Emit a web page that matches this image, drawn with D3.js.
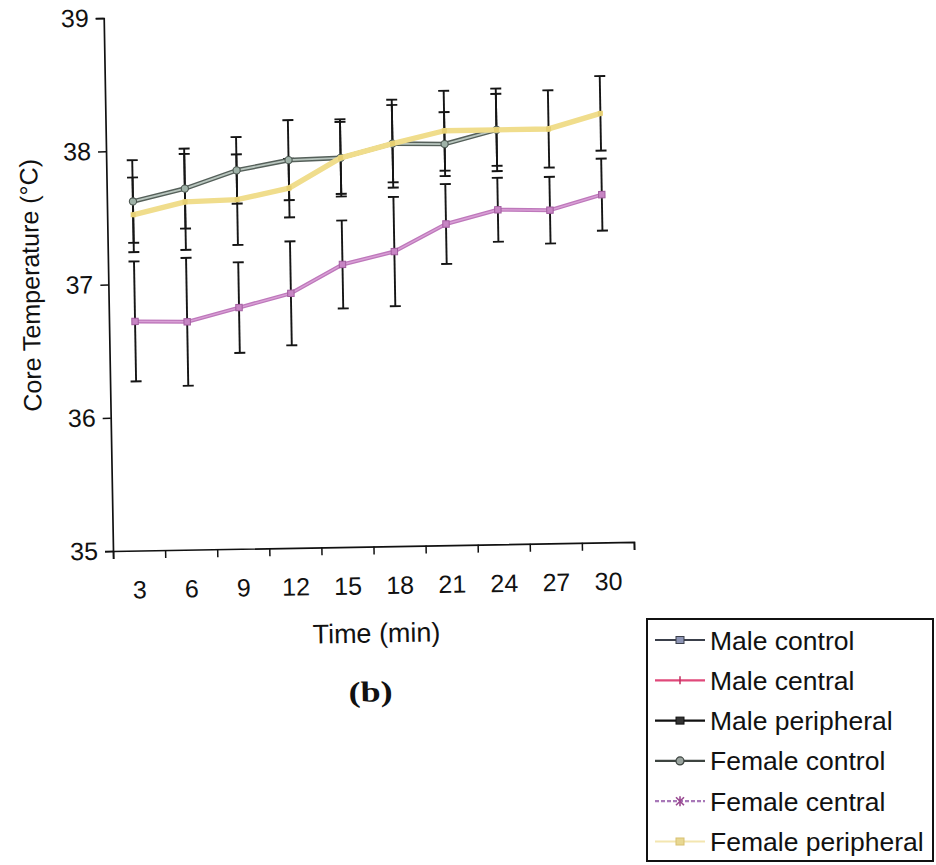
<!DOCTYPE html>
<html>
<head>
<meta charset="utf-8">
<script src="https://cdn.jsdelivr.net/npm/d3@7"></script>
<style>
  html, body { margin: 0; padding: 0; background: #fff; }
  svg { display: block; }
  text { font-family: "Liberation Sans", Arial, sans-serif; fill: #111; }
</style>
</head>
<body>
<svg id="chart" width="936" height="865"></svg>
<script>
// Time points (min)
const categories = [3, 6, 9, 12, 15, 18, 21, 24, 27, 30];
const yTicks = [35, 36, 37, 38, 39];

// Female groups: mean core temperature (°C) and error (±)
const femaleControl    = [37.62, 37.71, 37.84, 37.91, 37.92, 38.02, 38.01, 38.11];
const femaleControlErr = [0.31, 0.30, 0.25, 0.30, 0.29, 0.33, 0.24, 0.27];
const femaleCentral    = [36.72, 36.71, 36.81, 36.91, 37.12, 37.21, 37.41, 37.51, 37.50, 37.61];
const femaleCentralErr = [0.45, 0.48, 0.34, 0.39, 0.33, 0.41, 0.30, 0.24, 0.25, 0.27];
const femalePeripheral    = [37.52, 37.61, 37.62, 37.70, 37.92, 38.02, 38.11, 38.11, 38.11, 38.22];
const femalePeripheralErr = [0.28, 0.36, 0.34, 0.22, 0.27, 0.29, 0.30, 0.31, 0.29, 0.28];

// Legend entries (shared with the male panel)
const legendNames = ["Male control", "Male central", "Male peripheral",
                     "Female control", "Female central", "Female peripheral"];

const svg = d3.select("#chart");
const W = 521, H = 533;           // plot size
const ox = 113, oy = 551;         // axis origin on the page

// the whole panel sits on a slight tilt
const g = svg.append("g")
  .attr("transform", `translate(${ox},${oy}) rotate(-1) translate(0,${-H})`);

const x = d3.scaleBand().domain(categories).range([0, W]).padding(0);
const xb = d3.scaleLinear().domain([0, categories.length]).range([0, W]);
const y = d3.scaleLinear().domain([35, 39]).range([H, 0]);

// y axis
const ya = g.append("g").call(d3.axisLeft(y).tickValues(yTicks).tickSize(8).tickPadding(7).tickFormat(d3.format("d")));
ya.select(".domain").attr("stroke", "#111").attr("stroke-width", 1.7);
ya.selectAll(".tick line").attr("stroke", "#111").attr("stroke-width", 1.5);
ya.selectAll(".tick text").style("font-size", "25px").attr("fill", "#111");

// x axis: tick marks between categories
const xt = g.append("g").attr("transform", `translate(0,${H})`)
  .call(d3.axisBottom(xb).ticks(categories.length).tickSize(8).tickFormat(""));
xt.select(".domain").attr("stroke", "#111").attr("stroke-width", 1.7);
xt.selectAll(".tick line").attr("stroke", "#111").attr("stroke-width", 1.5);

// x labels at category centres
const xl = g.append("g").attr("transform", `translate(0,${H})`)
  .call(d3.axisBottom(x).tickSize(0).tickPadding(30));
xl.select(".domain").remove();
xl.selectAll(".tick text").style("font-size", "25px").attr("fill", "#111");

// axis titles
g.append("text")
  .attr("transform", `translate(-78,${H - 267}) rotate(-90)`)
  .attr("text-anchor", "middle").attr("dominant-baseline", "central")
  .style("font-size", "25px").text("Core Temperature (°C)");
g.append("text")
  .attr("x", 262).attr("y", H + 96)
  .attr("text-anchor", "middle").style("font-size", "27px").text("Time (min)");
g.append("text")
  .attr("x", 255).attr("y", H + 155)
  .attr("text-anchor", "middle")
  .style("font-family", "'Liberation Serif', 'Times New Roman', serif")
  .style("font-size", "29px").style("font-weight", "bold")
  .attr("textLength", 44).attr("lengthAdjust", "spacingAndGlyphs").text("(b)");

const cx = (i) => x(categories[i]) + x.bandwidth() / 2;

// error bars
function errorBars(vals, errs) {
  const eb = g.append("g").attr("stroke", "#151515").attr("stroke-width", 1.9).attr("fill", "none");
  vals.forEach((v, i) => {
    const xc = cx(i), y0 = y(v - errs[i]), y1 = y(v + errs[i]);
    eb.append("line").attr("x1", xc).attr("x2", xc).attr("y1", y0).attr("y2", y1);
    eb.append("line").attr("x1", xc - 5.5).attr("x2", xc + 5.5).attr("y1", y0).attr("y2", y0);
    eb.append("line").attr("x1", xc - 5.5).attr("x2", xc + 5.5).attr("y1", y1).attr("y2", y1);
  });
}
errorBars(femaleControl, femaleControlErr);
errorBars(femalePeripheral, femalePeripheralErr);
errorBars(femaleCentral, femaleCentralErr);

const line = d3.line().x((d, i) => cx(i)).y(d => y(d));

// Female control: grey line with dark edges
g.append("path").datum(femaleControl).attr("d", line)
  .attr("fill", "none").attr("stroke", "#55605a").attr("stroke-width", 4.6).attr("stroke-linejoin", "round");
g.append("path").datum(femaleControl).attr("d", line)
  .attr("fill", "none").attr("stroke", "#b9c6bf").attr("stroke-width", 1.8).attr("stroke-linejoin", "round");
g.append("g").selectAll("circle").data(femaleControl).join("circle")
  .attr("cx", (d, i) => cx(i)).attr("cy", d => y(d)).attr("r", 3.6)
  .attr("fill", "#9fb2a8").attr("stroke", "#4d5852").attr("stroke-width", 1.1);

// Female central: violet line
g.append("path").datum(femaleCentral).attr("d", line)
  .attr("fill", "none").attr("stroke", "#be78bb").attr("stroke-width", 4).attr("stroke-linejoin", "round");
g.append("path").datum(femaleCentral).attr("d", line)
  .attr("fill", "none").attr("stroke", "#d9a0d6").attr("stroke-width", 1.4);
g.append("g").selectAll("rect").data(femaleCentral).join("rect")
  .attr("x", (d, i) => cx(i) - 3.2).attr("y", d => y(d) - 3.2).attr("width", 6.4).attr("height", 6.4)
  .attr("fill", "#c785c4").attr("stroke", "#a35ea0").attr("stroke-width", 1);

// Female peripheral: pale yellow line drawn on top
g.append("path").datum(femalePeripheral).attr("d", line)
  .attr("fill", "none").attr("stroke", "#f0dd8c").attr("stroke-width", 5.4).attr("stroke-linejoin", "round");
g.append("g").selectAll("rect").data(femalePeripheral).join("rect")
  .attr("x", (d, i) => cx(i) - 2.5).attr("y", d => y(d) - 2.5).attr("width", 5).attr("height", 5)
  .attr("fill", "#e6cf72");

// legend
const lg = svg.append("g").attr("transform", "translate(647,619)");
lg.append("rect").attr("x", 0).attr("y", 0).attr("width", 286).attr("height", 242)
  .attr("fill", "#fff").attr("stroke", "#111").attr("stroke-width", 2);
const legendStyle = [
  { stroke: "#3a3f4a", marker: "square", fill: "#8c94b4", mstroke: "#3a3f4a" },
  { stroke: "#e0497a", marker: "plus",   fill: "#e0497a", mstroke: "#c03060" },
  { stroke: "#111111", marker: "square", fill: "#333",    mstroke: "#111" },
  { stroke: "#3d4440", marker: "circle", fill: "#9aa49f", mstroke: "#3d4440" },
  { stroke: "#a878b8", marker: "star",   fill: "#b060a8", mstroke: "#9a4a92" },
  { stroke: "#f3e6b0", marker: "square", fill: "#e8d892", mstroke: "#d8c070" }
];
legendNames.forEach((name, i) => {
  const row = lg.append("g").attr("transform", `translate(0,${21 + i * 40.3})`);
  const s = legendStyle[i];
  row.append("line").attr("x1", 8).attr("x2", 58).attr("y1", 0).attr("y2", 0)
    .attr("stroke", s.stroke).attr("stroke-width", 2.2)
    .attr("stroke-dasharray", i === 4 ? "4,2" : null);
  if (s.marker === "square") {
    row.append("rect").attr("x", 29).attr("y", -3.5).attr("width", 8).attr("height", 7)
      .attr("fill", s.fill).attr("stroke", s.mstroke).attr("stroke-width", 1);
  } else if (s.marker === "circle") {
    row.append("circle").attr("cx", 33).attr("cy", 0).attr("r", 4)
      .attr("fill", s.fill).attr("stroke", s.mstroke).attr("stroke-width", 1.2);
  } else if (s.marker === "plus") {
    row.append("line").attr("x1", 33).attr("x2", 33).attr("y1", -4).attr("y2", 4)
      .attr("stroke", s.mstroke).attr("stroke-width", 1.5);
  } else if (s.marker === "star") {
    row.append("path").attr("d", "M29,-4L37,4M37,-4L29,4M33,-5V5")
      .attr("stroke", s.mstroke).attr("stroke-width", 1.6);
  }
  row.append("text").attr("x", 63).attr("y", 9.5).style("font-size", "26.5px").text(name);
});
</script>
</body>
</html>
